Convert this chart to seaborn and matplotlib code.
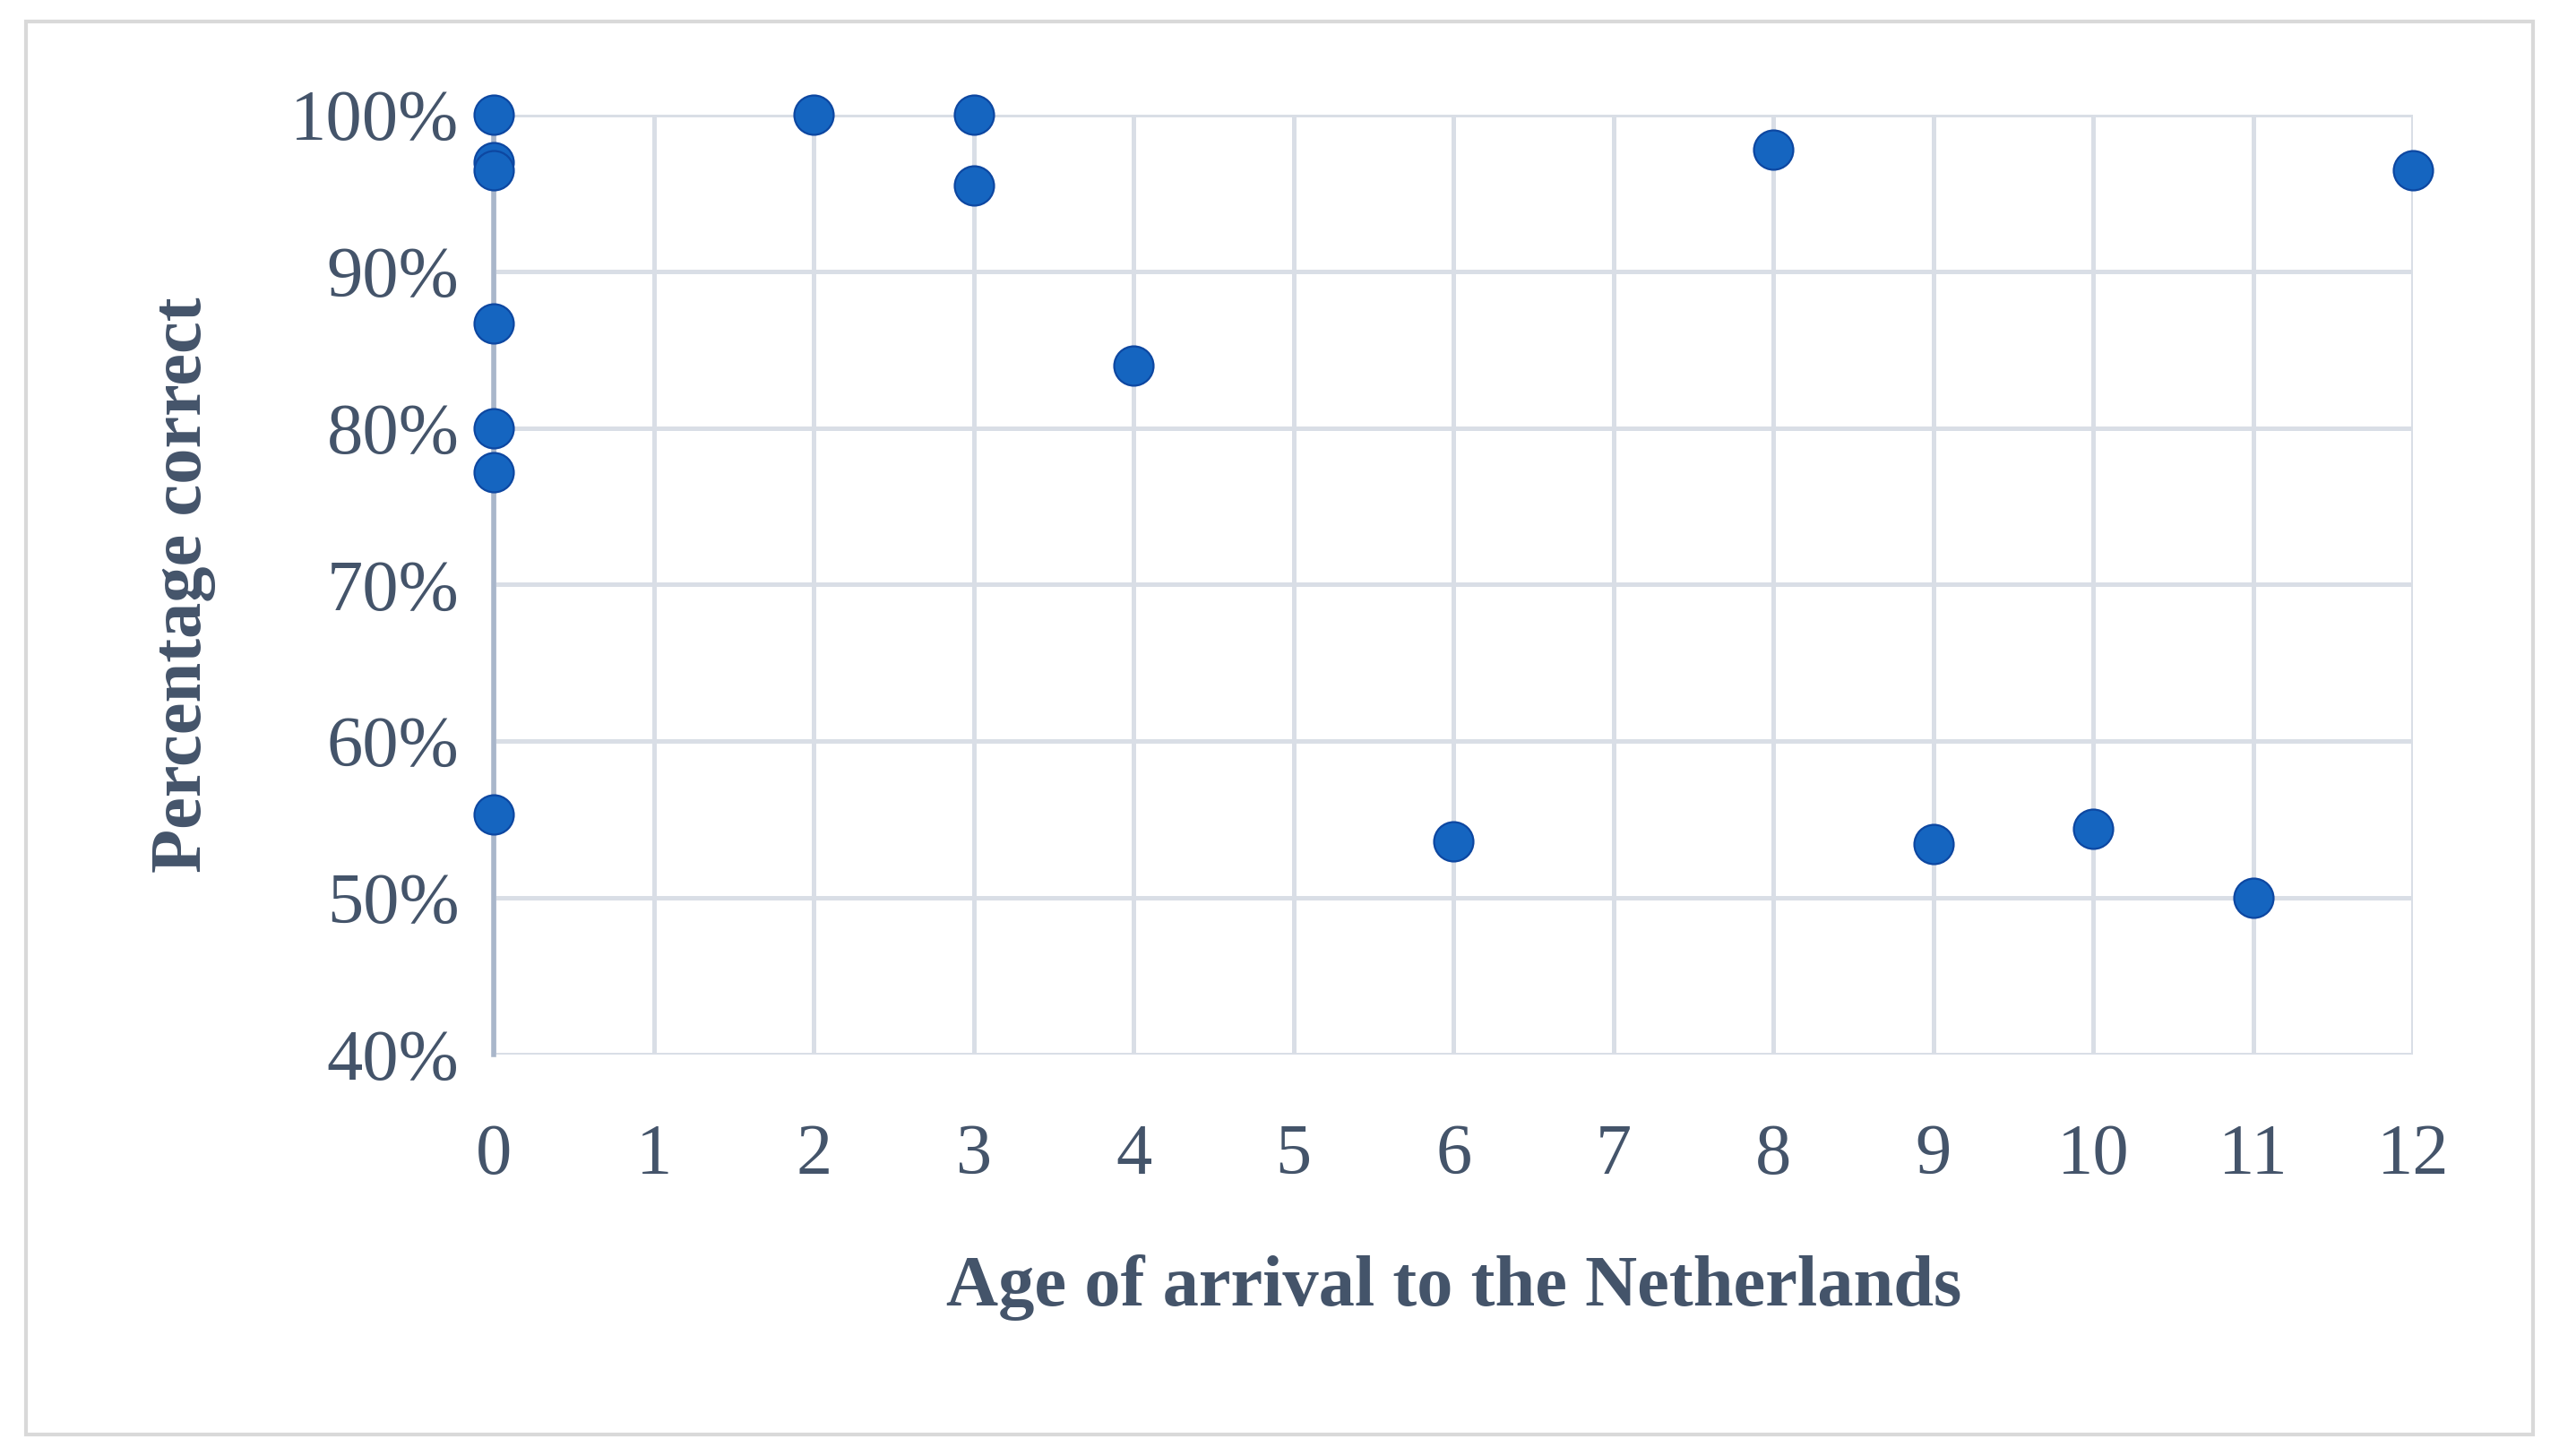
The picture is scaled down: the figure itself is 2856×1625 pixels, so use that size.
import matplotlib
matplotlib.use("Agg")
import matplotlib.pyplot as plt
import matplotlib.ticker as mticker
import seaborn as sns
import pandas as pd

# age of arrival vs percentage correct
age = [0, 0, 0, 0, 0, 0, 0, 2, 3, 3, 4, 6, 8, 9, 10, 11, 12]
pct = [100, 97.0, 96.5, 86.7, 80.0, 77.2, 55.3, 100, 100, 95.5, 84.0,
       53.6, 97.8, 53.4, 54.4, 50.0, 96.5]

df = pd.DataFrame({"age": age, "pct": pct})

sns.set_style("white")
plt.rcParams['font.family'] = ['Liberation Serif', 'DejaVu Serif']
txt = "#44546A"

fig = plt.figure(figsize=(14.28, 8.125), dpi=200)
ax = fig.add_axes([0.193, 0.276, 0.75, 0.645])
fig.patches.append(plt.Rectangle((0.01, 0.015), 0.98, 0.97, transform=fig.transFigure,
                                 fill=False, edgecolor="#D9D9D9", linewidth=1.5))

sns.scatterplot(data=df, x="age", y="pct", ax=ax, s=250, color="#1565C0",
                edgecolor="#0D47A1", linewidth=0.8, zorder=3, clip_on=False)

ax.set_xlim(0, 12)
ax.set_ylim(40, 100)
ax.set_xticks(range(0, 13))
ax.set_yticks(range(40, 101, 10))
ax.yaxis.set_major_formatter(mticker.FuncFormatter(lambda v, p: f"{int(v)}%"))
ax.grid(True, color="#D9DEE6", linewidth=1.8)
for s in ["top", "right", "bottom"]:
    ax.spines[s].set_visible(False)
ax.spines["left"].set_color("#A9B6CA")
ax.spines["left"].set_linewidth(2)
ax.tick_params(length=0, labelsize=29, labelcolor=txt, pad=14)
ax.tick_params(axis="x", pad=28)
ax.set_xlabel("Age of arrival to the Netherlands", fontsize=29, fontweight="bold",
              color=txt, labelpad=26)
ax.set_ylabel("Percentage correct", fontsize=29, fontweight="bold", color=txt,
              labelpad=30)

fig.savefig("out.png", dpi=200)
